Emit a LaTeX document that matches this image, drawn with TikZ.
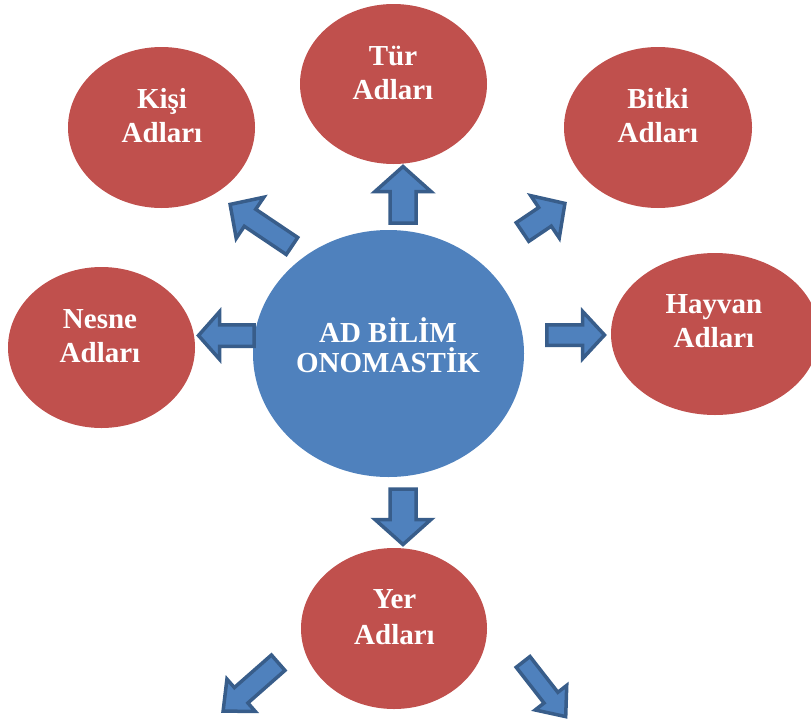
\documentclass[tikz,border=0pt]{standalone}
\usepackage{fontspec}
\setmainfont{Liberation Serif}
\usetikzlibrary{shapes.geometric,calc}
\definecolor{redfill}{HTML}{C0504D}
\definecolor{bluefill}{HTML}{4F81BD}
\definecolor{arrowline}{HTML}{385D8A}
\tikzset{
  namebubble/.style={ellipse, fill=redfill, draw=none, inner sep=0pt, outer sep=0pt},
  centerbubble/.style={ellipse, fill=bluefill, draw=none, inner sep=0pt, outer sep=0pt},
  lbl/.style={anchor=base, text=white, font=\fontsize{29}{34}\selectfont\bfseries, inner sep=0pt},
  blockarrow/.style={fill=bluefill, draw=arrowline, line width=3.5pt, line join=miter, miter limit=10}
}
% #1 tail coordinate, #2 tip coordinate, #3 shaft half width, #4 head half width, #5 head length
\newcommand\blockarr[5]{%
  \path ($(#2)!#5!(#1)$) coordinate (hb);
  \filldraw[blockarrow]
    ($(#1)!#3!90:(#2)$) -- ($(hb)!#3!-90:(#1)$) -- ($(hb)!#4!-90:(#1)$) -- (#2)
    -- ($(hb)!#4!90:(#1)$) -- ($(hb)!#3!90:(#1)$) -- ($(#1)!#3!-90:(#2)$) -- cycle;
}
\begin{document}
\begin{tikzpicture}[x=1pt,y=-1pt]
\useasboundingbox (0,0) rectangle (811,718);
\clip (0,0) rectangle (811,718);

% bubbles
\node[centerbubble, minimum width=271pt, minimum height=247pt] (ad) at (388.5,353.5) {};
\node[namebubble, minimum width=187pt, minimum height=160pt] (tur) at (393.5,84) {};
\node[namebubble, minimum width=187pt, minimum height=161pt] (kisi) at (161.5,127.5) {};
\node[namebubble, minimum width=188pt, minimum height=161pt] (bitki) at (658,127.5) {};
\node[namebubble, minimum width=187pt, minimum height=161pt] (nesne) at (101.5,347.5) {};
\node[namebubble, minimum width=208pt, minimum height=162pt] (hayvan) at (715,334) {};
\node[namebubble, minimum width=186pt, minimum height=161pt] (yer) at (394,628.5) {};

% labels
\node[lbl] (ad1) at (388,342) {AD BİLİM};
\node[lbl] (ad2) at (388,372) {ONOMASTİK};
\node[lbl] (tur1) at (393,65) {Tür};
\node[lbl] (tur2) at (393,99) {Adları};
\node[lbl] (kisi1) at (162,108) {Kişi};
\node[lbl] (kisi2) at (162,142) {Adları};
\node[lbl] (bitki1) at (658,108) {Bitki};
\node[lbl] (bitki2) at (658,142) {Adları};
\node[lbl] (nesne1) at (100,328) {Nesne};
\node[lbl] (nesne2) at (100,362) {Adları};
\node[lbl] (hayvan1) at (714,313) {Hayvan};
\node[lbl] (hayvan2) at (714,347) {Adları};
\node[lbl] (yer1) at (394.5,608) {Yer};
\node[lbl] (yer2) at (394.5,644) {Adları};

% arrow end points
\coordinate (upT) at (403,223);   \coordinate (upP) at (403,166.5);
\coordinate (dnT) at (403,489);   \coordinate (dnP) at (403,544.5);
\coordinate (lfT) at (254,335.5); \coordinate (lfP) at (198.5,335.5);
\coordinate (rtT) at (546.75,335);\coordinate (rtP) at (604.5,335);
\coordinate (ulT) at (292,246);   \coordinate (ulP) at (230.1,204.4);
\coordinate (urT) at (522.5,232); \coordinate (urP) at (564.9,203.4);
\coordinate (blT) at (278.2,662.7);\coordinate (blP) at (223.1,711.1);
\coordinate (brT) at (523.1,661.9);\coordinate (brP) at (565.7,716.6);

% block arrows
\blockarr{upT}{upP}{13pt}{28pt}{25pt}
\blockarr{dnT}{dnP}{13pt}{28pt}{25pt}
\blockarr{lfT}{lfP}{10.75pt}{23.75pt}{21pt}
\blockarr{rtT}{rtP}{10.25pt}{23.75pt}{22pt}
\blockarr{ulT}{ulP}{10.25pt}{24.75pt}{24pt}
\blockarr{urT}{urP}{11.25pt}{25.5pt}{24pt}
\blockarr{blT}{blP}{10.25pt}{21.5pt}{24pt}
\blockarr{brT}{brP}{8.75pt}{20pt}{24pt}
\end{tikzpicture}
\end{document}
